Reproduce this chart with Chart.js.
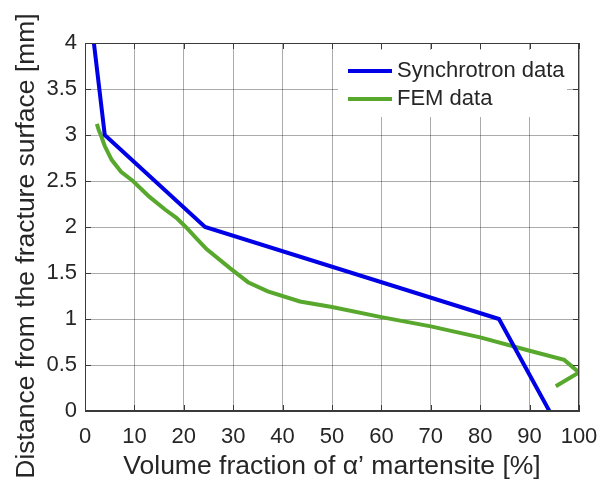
<!DOCTYPE html>
<html>
<head>
<meta charset="utf-8">
<script src="https://cdn.jsdelivr.net/npm/chart.js@4/dist/chart.umd.min.js"></script>
<style>
  html, body { margin: 0; padding: 0; background: #fff; }
  #wrap { width: 600px; height: 483px; }
</style>
</head>
<body>
<div id="wrap"><canvas id="grafico" width="600" height="483"></canvas></div>
<script>
// dados
var synchX = [1.8, 4.0, 24.3, 83.8, 94.0];
var synchY = [4.0, 3.0, 2.0, 1.0, 0.0];

var femX = [2.4, 2.8, 3.2, 4.0, 5.4, 7.3, 9.7, 13.0, 16.2, 18.5, 20.4, 22.5, 24.6, 29.4, 33.0, 37.0, 43.5, 50, 60, 70, 80, 90, 97, 100, 95.3];
var femY = [3.12, 3.05, 3.0, 2.88, 2.73, 2.6, 2.5, 2.33, 2.19, 2.1, 2.0, 1.88, 1.76, 1.55, 1.4, 1.3, 1.19, 1.13, 1.02, 0.92, 0.80, 0.655, 0.555, 0.42, 0.27];

var nomes = ['Synchrotron data', 'FEM data'];
var cores = ['#0000e6', '#58a82e'];
var tituloY = 'Distance from the fracture surface [mm]';

function juntaPontos(xs, ys) {
    var pts = [];
    for (var i = 0; i < xs.length; i++) {
        pts.push({ x: xs[i], y: ys[i] });
    }
    return pts;
}

var fonte = 'Liberation Sans, Arial, sans-serif';
var corTexto = '#262626';
var corEixo = '#3a3a3a';

// caixa do grafico, tiquinhos pra dentro, legenda e titulo do eixo y
var caixaPlugin = {
    id: 'caixa',
    afterDatasetsDraw: function (chart) {
        var ctx = chart.ctx;
        var a = chart.chartArea;
        var sx = chart.scales.x, sy = chart.scales.y;
        ctx.save();

        // legenda
        var lx = a.right - 241, ly = a.top + 7;
        ctx.fillStyle = '#fff';
        ctx.fillRect(lx, ly, 229, 67);
        ctx.font = '22px ' + fonte;
        ctx.textBaseline = 'middle';
        for (var i = 0; i < nomes.length; i++) {
            var yy = ly + 21 + i * 28;
            ctx.strokeStyle = cores[i];
            ctx.lineWidth = 4;
            ctx.beginPath();
            ctx.moveTo(lx + 10, yy);
            ctx.lineTo(lx + 54, yy);
            ctx.stroke();
            ctx.fillStyle = corTexto;
            ctx.fillText(nomes[i], lx + 59, yy);
        }

        ctx.strokeStyle = corEixo;
        ctx.lineWidth = 1;
        ctx.beginPath();
        sx.ticks.forEach(function (t) {
            var px = Math.round(sx.getPixelForValue(t.value)) + 0.5;
            ctx.moveTo(px, a.top); ctx.lineTo(px, a.top + 6);
            ctx.moveTo(px, a.bottom); ctx.lineTo(px, a.bottom - 6);
        });
        sy.ticks.forEach(function (t) {
            var py = Math.round(sy.getPixelForValue(t.value)) + 0.5;
            ctx.moveTo(a.right, py); ctx.lineTo(a.right - 6, py);
            ctx.moveTo(a.left, py); ctx.lineTo(a.left + 6, py);
        });
        ctx.stroke();
        ctx.strokeRect(a.left + 0.5, a.top + 0.5, a.right - a.left - 1, a.bottom - a.top - 1);

        // titulo y
        ctx.translate(27, 246);
        ctx.rotate(-Math.PI / 2);
        ctx.font = '26.5px ' + fonte;
        ctx.fillStyle = corTexto;
        ctx.textAlign = 'center';
        ctx.textBaseline = 'middle';
        ctx.fillText(tituloY, 0, 0);
        ctx.restore();
    }
};

var meuGrafico = new Chart(document.getElementById('grafico'), {
    type: 'scatter',
    data: {
        datasets: [
            {
                label: nomes[0],
                data: juntaPontos(synchX, synchY),
                showLine: true,
                borderColor: cores[0],
                borderWidth: 4,
                pointRadius: 0,
                tension: 0
            },
            {
                label: nomes[1],
                data: juntaPontos(femX, femY),
                showLine: true,
                borderColor: cores[1],
                borderWidth: 4,
                pointRadius: 0,
                tension: 0
            }
        ]
    },
    options: {
        responsive: false,
        animation: false,
        layout: { padding: { top: 43, right: 21, left: 0, bottom: 0 } },
        plugins: {
            legend: { display: false },
            tooltip: { enabled: false }
        },
        scales: {
            x: {
                type: 'linear',
                min: 0,
                max: 100,
                ticks: { stepSize: 10, color: corTexto, font: { family: fonte, size: 22 }, padding: 13, maxRotation: 0 },
                grid: { color: 'rgba(0,0,0,0.33)', drawTicks: false },
                border: { color: corEixo },
                title: {
                    display: true,
                    text: 'Volume fraction of α\u2019 martensite [%]',
                    color: corTexto,
                    font: { family: fonte, size: 26.5 },
                    padding: { top: 0, bottom: 0 }
                },
                afterFit: function (s) { s.height = 72; s.paddingLeft = 0; s.paddingRight = 0; }
            },
            y: {
                min: 0,
                max: 4,
                ticks: {
                    stepSize: 0.5, color: corTexto, font: { family: fonte, size: 22 }, padding: 8,
                    callback: function (v) { return String(v); }
                },
                grid: { color: 'rgba(0,0,0,0.33)', drawTicks: false },
                border: { color: corEixo },
                afterFit: function (s) { s.width = 85; s.paddingTop = 0; s.paddingBottom = 0; }
            }
        }
    },
    plugins: [caixaPlugin]
});
</script>
</body>
</html>
